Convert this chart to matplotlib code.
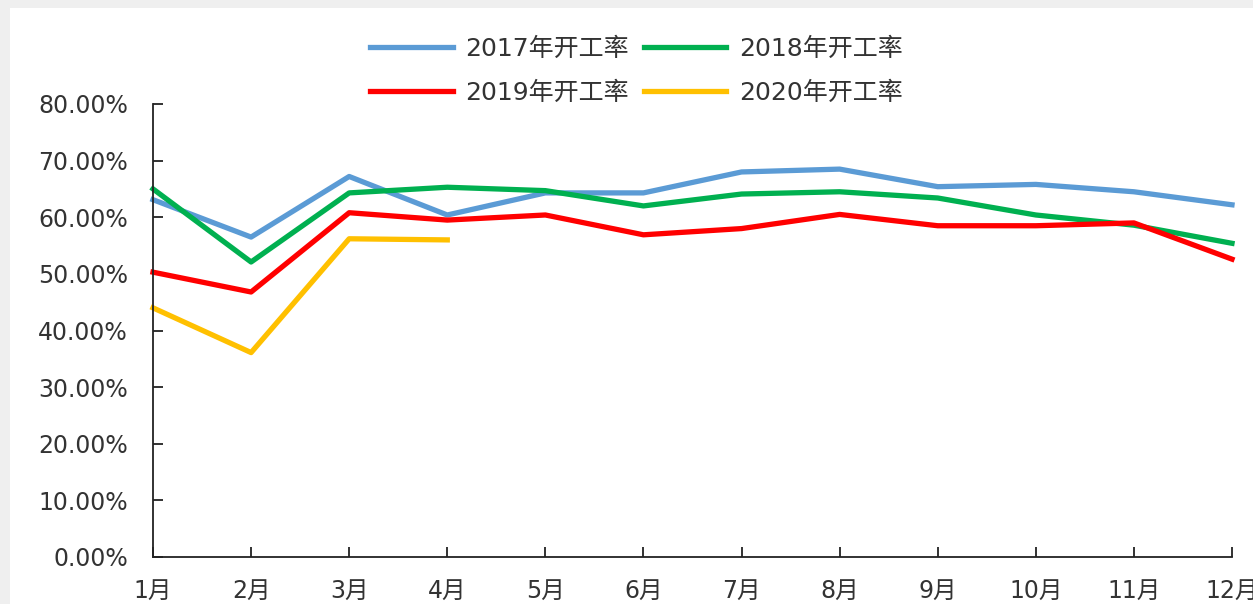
import matplotlib.pyplot as plt
from matplotlib.patches import Rectangle
from matplotlib.ticker import FuncFormatter

plt.rcParams['font.family'] = ['DejaVu Sans', 'Noto Sans CJK SC']

# Data
months = ['1月', '2月', '3月', '4月', '5月', '6月', '7月', '8月', '9月', '10月', '11月', '12月']
rate_2017 = [63.1, 56.5, 67.2, 60.4, 64.3, 64.3, 68.0, 68.5, 65.4, 65.8, 64.5, 62.2]
rate_2018 = [65.0, 52.1, 64.3, 65.3, 64.7, 62.0, 64.1, 64.5, 63.4, 60.4, 58.6, 55.4]
rate_2019 = [50.3, 46.8, 60.8, 59.5, 60.4, 56.9, 58.0, 60.5, 58.5, 58.5, 59.0, 52.6]
rate_2020 = [44.0, 36.1, 56.2, 56.0]

fig = plt.figure(figsize=(12.53, 6.04), dpi=100)
fig.patch.set_facecolor('#efefef')
fig.add_artist(Rectangle((10 / 1253, 0), 1, 1 - 8 / 604, transform=fig.transFigure,
                         facecolor='white', edgecolor='none', zorder=0))

ax = fig.add_axes([153 / 1253, 1 - 557 / 604, (1232 - 153) / 1253, (557 - 104) / 604])
ax.set_facecolor('none')

lw = 3.8
l17, = ax.plot(range(12), rate_2017, color='#5b9bd5', lw=lw, clip_on=False, label='2017年开工率')
l18, = ax.plot(range(12), rate_2018, color='#00b050', lw=lw, clip_on=False, label='2018年开工率')
l19, = ax.plot(range(12), rate_2019, color='#ff0000', lw=lw, clip_on=False, label='2019年开工率')
l20, = ax.plot(range(len(rate_2020)), rate_2020, color='#ffc000', lw=lw, clip_on=False, label='2020年开工率')

ax.set_xlim(0, 11)
ax.set_ylim(0, 80)
ax.set_yticks(range(0, 81, 10))
ax.yaxis.set_major_formatter(FuncFormatter(lambda v, p: f'{v:.2f}%'))
ax.set_xticks(range(12))
ax.set_xticklabels(months)

for s in ['top', 'right']:
    ax.spines[s].set_visible(False)
for s in ['left', 'bottom']:
    ax.spines[s].set_linewidth(1.3)
    ax.spines[s].set_color('#222222')

ax.tick_params(axis='both', direction='in', length=7, width=1.3, color='#222222',
               labelsize=17, labelcolor='#333333')
ax.tick_params(axis='y', pad=18)
ax.tick_params(axis='x', pad=16)

ax.legend([l17, l19, l18, l20], [l17.get_label(), l19.get_label(), l18.get_label(), l20.get_label()],
          ncol=2, frameon=False, fontsize=18, loc='center',
          bbox_to_anchor=(0.508, 0.883), bbox_transform=fig.transFigure,
          handlelength=3.3, handletextpad=0.5, columnspacing=0.6, labelspacing=0.8)
for t in ax.get_legend().get_texts():
    t.set_color('#333333')

fig.savefig('out.png', dpi=100, facecolor=fig.get_facecolor())
